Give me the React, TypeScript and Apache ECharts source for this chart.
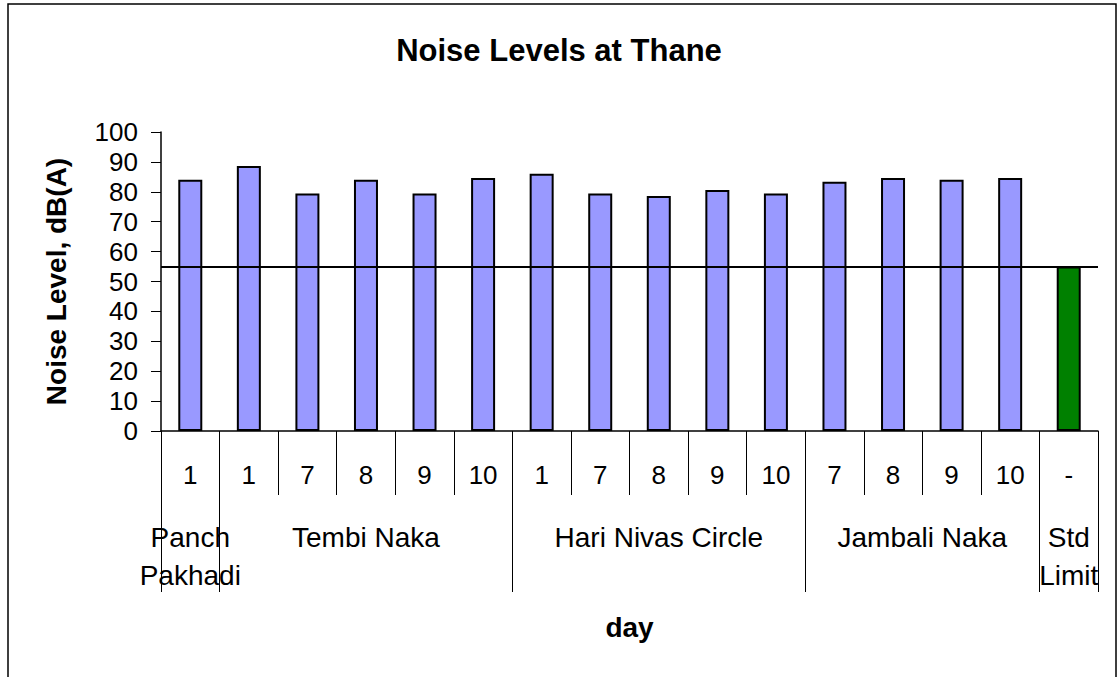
import React, { useEffect, useRef } from "react";
import * as echarts from "echarts";

const dayLabels = ["1", "1", "7", "8", "9", "10", "1", "7", "8", "9", "10", "7", "8", "9", "10", "-"];
const noiseLevels = [84, 88.6, 79.4, 84, 79.4, 84.6, 86, 79.4, 78.6, 80.6, 79.4, 83.4, 84.6, 84, 84.6, 55];
const locationNames = ["Panch\nPakhadi", "Tembi Naka", "Hari Nivas Circle", "Jambali Naka", "Std\nLimit"];
const locationSizes = [1, 5, 5, 4, 1];
const stdLimit = 55;

const FONT = "'Liberation Sans', Arial, sans-serif";

export default function App() {
  const ref = useRef<HTMLDivElement>(null);
  useEffect(() => {
    if (!ref.current) return;
    const chart = echarts.init(ref.current, undefined, { renderer: "svg" });

    const bounds: number[] = [0];
    locationSizes.forEach((s) => bounds.push(bounds[bounds.length - 1] + s));
    const centers = locationNames.map((_, i) => (bounds[i] + bounds[i + 1]) / 2);

    const lastIdx = noiseLevels.length - 1;
    const barData = noiseLevels.map((v, i) => ({
      value: v,
      itemStyle: { color: i === lastIdx ? "#008000" : "#9999FF" },
    }));

    chart.setOption({
      animation: false,
      backgroundColor: "#ffffff",
      textStyle: { fontFamily: FONT, color: "#000" },
      title: {
        text: "Noise Levels at Thane",
        left: "center",
        top: 30,
        textStyle: { fontFamily: FONT, fontSize: 31, fontWeight: "bold", color: "#000" },
      },
      graphic: [
        {
          type: "rect",
          shape: { x: 8, y: 4, width: 1108, height: 700 },
          style: { fill: "none", stroke: "#000", lineWidth: 1.5 },
          silent: true,
          z: -1,
        },
      ],
      grid: { left: 161, right: 20, top: 132, bottom: 246, containLabel: false },
      xAxis: [
        {
          type: "category",
          position: "bottom",
          data: dayLabels,
          axisLine: { show: true, lineStyle: { color: "#000", width: 1.5 } },
          axisTick: { show: true, interval: 0, length: 64, alignWithLabel: false, lineStyle: { color: "#000", width: 1 } },
          axisLabel: {
            interval: 0,
            margin: 31,
            fontSize: 26,
            lineHeight: 26,
            color: "#000",
            fontFamily: FONT,
          },
          splitLine: { show: false },
        },
        {
          type: "value",
          position: "bottom",
          min: 0,
          max: bounds[bounds.length - 1],
          axisLine: { show: false },
          splitLine: { show: false },
          axisTick: {
            show: true,
            customValues: bounds,
            length: 161,
            lineStyle: { color: "#000", width: 1 },
          },
          axisLabel: {
            show: true,
            customValues: centers,
            margin: 87,
            fontSize: 28,
            lineHeight: 38,
            color: "#000",
            fontFamily: FONT,
            formatter: (v: number) => {
              const idx = centers.findIndex((c) => Math.abs(c - v) < 1e-6);
              return idx >= 0 ? locationNames[idx] : "";
            },
          },
          name: "day",
          nameLocation: "middle",
          nameGap: 182,
          nameTextStyle: { fontFamily: FONT, fontSize: 28, fontWeight: "bold", color: "#000" },
        },
      ],
      yAxis: {
        type: "value",
        min: 0,
        max: 100,
        interval: 10,
        name: "Noise Level, dB(A)",
        nameLocation: "middle",
        nameGap: 91,
        nameTextStyle: { fontFamily: FONT, fontSize: 28, fontWeight: "bold", color: "#000" },
        axisLine: { show: true, lineStyle: { color: "#000", width: 1.5 } },
        axisTick: { show: true, inside: false, length: 10, lineStyle: { color: "#000", width: 1 } },
        axisLabel: { margin: 23, fontSize: 26, color: "#000", fontFamily: FONT },
        splitLine: { show: false },
      },
      series: [
        {
          type: "bar",
          xAxisIndex: 0,
          yAxisIndex: 0,
          data: barData,
          barWidth: 24,
          itemStyle: { borderColor: "#000", borderWidth: 2 },
          markLine: {
            silent: true,
            symbol: "none",
            label: { show: false },
            lineStyle: { color: "#000", width: 2, type: "solid" },
            data: [{ yAxis: stdLimit }],
          },
        },
      ],
    });
    return () => chart.dispose();
  }, []);

  return (
    <div
      ref={ref}
      style={{ position: "fixed", left: 0, top: 0, width: 1118, height: 677, background: "#fff" }}
    />
  );
}
